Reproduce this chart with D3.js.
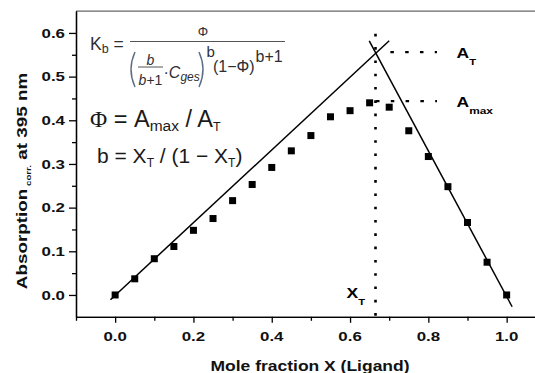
<!DOCTYPE html>
<html><head><meta charset="utf-8">
<script src="https://cdn.jsdelivr.net/npm/d3@7"></script>
<style>body{margin:0;background:#fff;}svg{display:block;}text{font-family:"Liberation Sans",Arial,sans-serif;}</style>
</head><body>
<script>
// ---- data ----
const moleFraction = [0.00,0.05,0.10,0.15,0.20,0.25,0.30,0.35,0.40,0.45,0.50,0.55,0.60,0.65,0.70,0.75,0.80,0.85,0.90,0.95,1.00];
const absorption   = [0.000,0.037,0.083,0.111,0.148,0.175,0.216,0.253,0.292,0.330,0.365,0.408,0.422,0.440,0.430,0.376,0.317,0.248,0.166,0.075,0.000];
const fitLeftX  = [-0.012, 0.700];
const fitLeftY  = [-0.011, 0.582];
const fitRightX = [0.649, 1.014];
const fitRightY = [0.582, -0.027];
const xT = 0.665, aT = 0.556, aMax = 0.444;
const xMajorTicks = [0.0,0.2,0.4,0.6,0.8,1.0];
const xMinorTicks = [-0.1,0.1,0.3,0.5,0.7,0.9];
const yMajorTicks = [0.0,0.1,0.2,0.3,0.4,0.5,0.6];
const yMinorTicks = [0.05,0.15,0.25,0.35,0.45,0.55];
const xTickLabels = ["0.0","0.2","0.4","0.6","0.8","1.0"];
const yTickLabels = ["0.0","0.1","0.2","0.3","0.4","0.5","0.6"];

const W = 535, H = 373;
const svg = d3.select("body").append("svg").attr("width", W).attr("height", H);
const x = d3.scaleLinear().domain([-0.1, 1.1]).range([76, 545.8]);
const y = d3.scaleLinear().domain([-0.05, 0.65]).range([316.8, 11.1]);
const SX = 1.25; // horizontal stretch of the original lettering

// top frame line
svg.append("line").attr("x1", x(-0.1)).attr("x2", W).attr("y1", y(0.65)).attr("y2", y(0.65))
  .attr("stroke", "#666").attr("stroke-width", 1.3);

// axes
function styleAxis(g){ g.selectAll("path,line").attr("stroke","#000").attr("stroke-width",1.3); g.selectAll("text").remove(); }
svg.append("g").attr("transform", `translate(0,${y(-0.05)})`)
  .call(d3.axisBottom(x).tickValues(xMajorTicks).tickSize(6).tickSizeOuter(0).tickFormat("")).call(styleAxis);
svg.append("g").attr("transform", `translate(0,${y(-0.05)})`)
  .call(d3.axisBottom(x).tickValues(xMinorTicks).tickSize(4).tickSizeOuter(0).tickFormat("")).call(styleAxis);
svg.append("g").attr("transform", `translate(${x(-0.1)},0)`)
  .call(d3.axisLeft(y).tickValues(yMajorTicks).tickSize(7).tickSizeOuter(0).tickFormat("")).call(styleAxis);
svg.append("g").attr("transform", `translate(${x(-0.1)},0)`)
  .call(d3.axisLeft(y).tickValues(yMinorTicks).tickSize(4).tickSizeOuter(0).tickFormat("")).call(styleAxis);

// tick labels
xMajorTicks.forEach((v,i)=>{
  svg.append("g").attr("transform", `translate(${x(v)},340.5)`)
    .append("text").attr("transform", `scale(${SX},1)`).attr("text-anchor","middle")
    .attr("font-size",13.5).attr("font-weight","bold").attr("fill","#111").text(xTickLabels[i]);
});
yMajorTicks.forEach((v,i)=>{
  svg.append("g").attr("transform", `translate(65,${y(v)+4.6})`)
    .append("text").attr("transform", `scale(${SX},1)`).attr("text-anchor","end")
    .attr("font-size",13.5).attr("font-weight","bold").attr("fill","#111").text(yTickLabels[i]);
});

// axis titles
svg.append("g").attr("transform","translate(310,371)")
  .append("text").attr("transform",`scale(${SX},1)`).attr("text-anchor","middle")
  .attr("font-size",14).attr("font-weight","bold").attr("fill","#111").text("Mole fraction X (Ligand)");
const yt = svg.append("g").attr("transform","translate(27,181) rotate(-90)")
  .append("text").attr("transform",`scale(1.3,1)`).attr("text-anchor","middle")
  .attr("font-size",14.5).attr("font-weight","bold").attr("fill","#111");
yt.append("tspan").text("Absorption");
yt.append("tspan").attr("font-size",7.5).attr("dy",3.5).text(" corr.");
yt.append("tspan").attr("dy",-3.5).text(" at 395 nm");

// fit lines
const line = d3.line().x(d=>x(d[0])).y(d=>y(d[1]));
svg.append("path").datum(d3.zip(fitLeftX, fitLeftY)).attr("d", line)
  .attr("fill","none").attr("stroke","#000").attr("stroke-width",1.5);
svg.append("path").datum(d3.zip(fitRightX, fitRightY)).attr("d", line)
  .attr("fill","none").attr("stroke","#000").attr("stroke-width",1.5);

// dotted guides
svg.append("line").attr("x1",x(xT)).attr("x2",x(xT)).attr("y1",y(0.598)).attr("y2",y(-0.05))
  .attr("stroke","#000").attr("stroke-width",2.6).attr("stroke-dasharray","2.6 10.7");
svg.append("line").attr("x1",x(0.703)).attr("x2",x(0.822)).attr("y1",y(aT)).attr("y2",y(aT))
  .attr("stroke","#000").attr("stroke-width",2.2).attr("stroke-dasharray","3.5 11.3");
svg.append("line").attr("x1",x(xT)+0.5).attr("x2",x(0.822)).attr("y1",y(aMax)).attr("y2",y(aMax))
  .attr("stroke","#000").attr("stroke-width",2.2).attr("stroke-dasharray","3.5 11.3");

// data points
const s = 7;
svg.append("g").selectAll("rect").data(d3.zip(moleFraction, absorption)).join("rect")
  .attr("x", d=>x(d[0])-s/2).attr("y", d=>y(d[1])-s/2).attr("width", s).attr("height", s)
  .attr("fill","#000");

// A_T, A_max, X_T labels
function labelSub(px, py, main, sub, subDy, subSize){
  const t = svg.append("g").attr("transform",`translate(${px},${py})`)
    .append("text").attr("transform",`scale(${SX},1)`).attr("font-weight","bold").attr("fill","#000").attr("font-size",14);
  t.append("tspan").text(main);
  t.append("tspan").attr("font-size",subSize).attr("dy",subDy).text(sub);
}
labelSub(456.5, 57.5, "A", "T", 7.5, 9);
labelSub(456.5, 106.5, "A", "max", 7, 9.5);
labelSub(346.5, 297.5, "X", "T", 7.5, 9);

// formula K_b
const fc = "#2e2e33";
const f = svg.append("g").attr("fill", fc);
const k = f.append("text").attr("x",90).attr("y",50).attr("font-size",17.5);
k.append("tspan").text("K");
k.append("tspan").attr("font-size",12.5).attr("dy",3).text("b");
k.append("tspan").attr("dy",-3).text(" =");
f.append("line").attr("x1",130).attr("x2",285).attr("y1",41.5).attr("y2",41.5).attr("stroke","#555").attr("stroke-width",1);
f.append("text").attr("x",203).attr("y",35.5).attr("font-size",13).attr("text-anchor","middle").text("Φ");
// big parentheses drawn as curves
f.append("path").attr("d","M135,52 Q127,69.5 135,87").attr("fill","none").attr("stroke","#5c6b86").attr("stroke-width",1.4);
f.append("path").attr("d","M199,52 Q207,69.5 199,87").attr("fill","none").attr("stroke","#5c6b86").attr("stroke-width",1.4);
f.append("text").attr("x",150.5).attr("y",64.5).attr("font-size",14).attr("font-style","italic").attr("text-anchor","middle").text("b");
f.append("line").attr("x1",138).attr("x2",163).attr("y1",67).attr("y2",67).attr("stroke","#555").attr("stroke-width",1);
const bp = f.append("text").attr("x",150.5).attr("y",84.5).attr("font-size",14).attr("text-anchor","middle");
bp.append("tspan").attr("font-style","italic").text("b");
bp.append("tspan").text("+1");
const cg = f.append("text").attr("x",163.5).attr("y",78).attr("font-size",16);
cg.append("tspan").text("·");
cg.append("tspan").attr("font-style","italic").text("C");
cg.append("tspan").attr("font-style","italic").attr("font-size",12).attr("dy",3).text("ges");
f.append("text").attr("x",206.5).attr("y",56.5).attr("font-size",15).text("b");
f.append("text").attr("x",213).attr("y",72).attr("font-size",16).text("(1−Φ)");
f.append("text").attr("x",255.5).attr("y",61.5).attr("font-size",16).text("b+1");

// Φ = Amax / AT
const p = svg.append("text").attr("x",90).attr("y",127).attr("font-size",23.5).attr("fill","#1a1a1a");
p.append("tspan").attr("font-family","'Liberation Serif','Times New Roman',serif").text("Φ");
p.append("tspan").text(" = A");
p.append("tspan").attr("font-size",15.5).attr("dy",4).text("max");
p.append("tspan").attr("dy",-4).text(" / A");
p.append("tspan").attr("font-size",12.5).attr("dy",4).text("T");

// b = XT / (1 − XT)
const b = svg.append("text").attr("x",97).attr("y",163).attr("font-size",21).attr("fill","#1a1a1a");
b.append("tspan").text("b = X");
b.append("tspan").attr("font-size",12).attr("dy",4).text("T");
b.append("tspan").attr("dy",-4).text(" / (1 − X");
b.append("tspan").attr("font-size",12).attr("dy",4).text("T");
b.append("tspan").attr("dy",-4).text(")");
</script>
</body></html>
